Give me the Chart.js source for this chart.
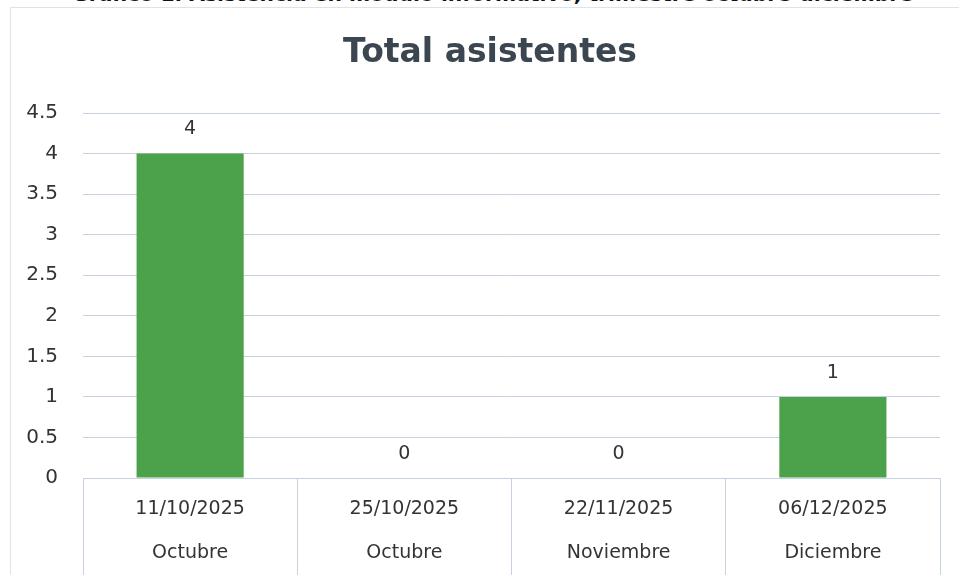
<!DOCTYPE html>
<html>
<head>
<meta charset="utf-8">
<script src="https://cdn.jsdelivr.net/npm/chart.js@4.4.1/dist/chart.umd.min.js"></script>
<style>
  html, body { margin: 0; padding: 0; background: #ffffff; }
  #wrap { position: relative; width: 959px; height: 575px; overflow: hidden; background: #fff; }
  #frame { position: absolute; left: 10px; top: 7px; width: 1000px; height: 700px; border: 1px solid #dde3ea; }
  #caption {
    position: absolute; left: 72px; top: -16px; white-space: nowrap;
    font: bold 20.3px "DejaVu Sans", sans-serif; line-height: 20px; color: #111;
  }
  #title {
    position: absolute; left: 290px; width: 400px; top: 31px; text-align: center;
    font: bold 33px "DejaVu Sans", sans-serif; line-height: 40px; color: #3c4650;
  }
  #barCanvas { position: absolute; left: 0; top: 0; }
</style>
</head>
<body>
<div id="wrap">
  <div id="frame"></div>
  <div id="caption">Gráfico 1. Asistencia en módulo informativo, trimestre octubre-diciembre</div>
  <canvas id="barCanvas" width="959" height="575"></canvas>
  <div id="title">Total asistentes</div>
</div>
<script>
// données
const fechas = ['11/10/2025', '25/10/2025', '22/11/2025', '06/12/2025'];
const meses = ['Octubre', 'Octubre', 'Noviembre', 'Diciembre'];
const asistentes = [4, 0, 0, 1];
const yTicks = [0, 0.5, 1, 1.5, 2, 2.5, 3, 3.5, 4, 4.5];

const gridColor = '#c6d2df';
const textColor = '#333333';

// étiquettes des valeurs au-dessus des barres
const valueLabels = {
  id: 'valueLabels',
  afterDatasetsDraw(chart) {
    const ctx = chart.ctx;
    const meta = chart.getDatasetMeta(0);
    ctx.save();
    ctx.font = '19px "DejaVu Sans", sans-serif';
    ctx.fillStyle = textColor;
    ctx.textAlign = 'center';
    ctx.textBaseline = 'middle';
    meta.data.forEach((bar, i) => {
      ctx.fillText(String(asistentes[i]), bar.x, bar.y - 24);
    });
    ctx.restore();
  }
};

const labels = fechas.map((f, i) => [f, meses[i]]);

new Chart(document.getElementById('barCanvas'), {
  type: 'bar',
  data: {
    labels: labels,
    datasets: [{
      label: 'Total asistentes',
      data: asistentes,
      backgroundColor: '#4ca24a',
      barPercentage: 0.5,
      categoryPercentage: 1
    }]
  },
  options: {
    responsive: false,
    animation: false,
    layout: { padding: { left: 0, right: 19, top: 113, bottom: 0 } },
    plugins: {
      legend: { display: false },
      tooltip: { enabled: false },
      title: { display: false }
    },
    scales: {
      x: {
        afterFit: s => { s.height = 97; },
        border: { display: true, color: gridColor },
        grid: {
          display: true, offset: true, drawOnChartArea: false,
          drawTicks: true, tickLength: 97, color: gridColor
        },
        ticks: {
          padding: -88,
          color: textColor,
          font: { family: '"DejaVu Sans", sans-serif', size: 19, lineHeight: '44px' },
          maxRotation: 0
        }
      },
      y: {
        min: 0,
        max: 4.5,
        afterFit: s => { s.width = 83; },
        afterBuildTicks: s => { s.ticks = yTicks.map(v => ({ value: v })); },
        border: { display: false },
        grid: { color: gridColor, drawTicks: false },
        ticks: {
          padding: 25,
          color: textColor,
          font: { family: '"DejaVu Sans", sans-serif', size: 20 },
          callback: v => String(v)
        }
      }
    }
  },
  plugins: [valueLabels]
});
</script>
</body>
</html>
